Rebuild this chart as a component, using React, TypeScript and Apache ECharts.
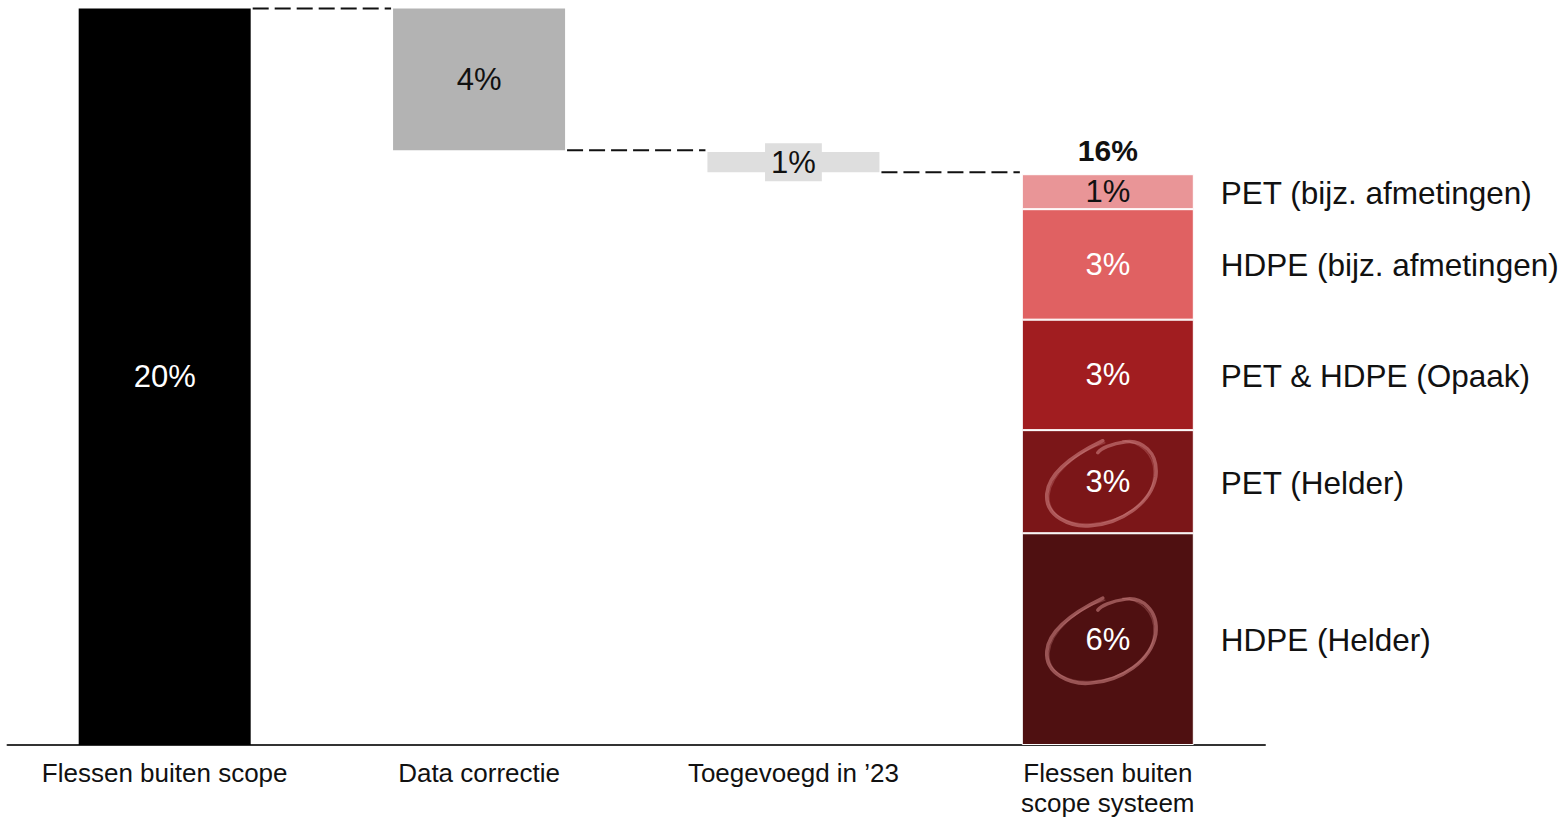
import React, { useEffect, useRef } from "react";
import * as echarts from "echarts";

// ---- data ----
const categories = [
  "Flessen buiten scope",
  "Data correctie",
  "Toegevoegd in \u201923",
  "Flessen buiten\nscope systeem",
];
const startTotal = 20;
const changeValues = [3.85, 0.55]; // Data correctie, Toegevoegd in '23
const changeBases = [16.15, 15.55];
const segmentNames = [
  "HDPE (Helder)",
  "PET (Helder)",
  "PET & HDPE (Opaak)",
  "HDPE (bijz. afmetingen)",
  "PET (bijz. afmetingen)",
];
const segmentValues = [5.75, 2.8, 3.0, 3.0, 0.95];
const circledSegments = [0, 1];

// ---- styles ----
const FONT = "'Liberation Sans', Arial, Helvetica, sans-serif";
const BAR_W = 172;
const segmentColors = ["#4f1011", "#7b1618", "#a11d20", "#e06162", "#e99597"];
const segmentLabelColors = ["#fff", "#fff", "#fff", "#fff", "#111"];
const CIRCLE_D =
  "M 2 -41 C -25 -28 -52 -10 -54 12 C -56 35 -30 46 -10 44 C 20 42 50 22 55 -5 C 58 -30 40 -42 25 -40 C 10 -38 0 -33 -3 -29";
const CIRCLE_D2 =
  "M 4 -39 C -24 -30 -50 -8 -52 14 C -53 36 -28 44 -8 42 C 22 40 52 20 53 -6 C 55 -28 38 -40 22 -41";

const pct = (p: any) => Math.round(p.value) + "%";

export default function App() {
  const ref = useRef<HTMLDivElement>(null);

  useEffect(() => {
    if (!ref.current) return;
    const chart = echarts.init(ref.current, undefined, { renderer: "svg" });

    const total = segmentValues.reduce((a, b) => a + b, 0);
    const mids: number[] = [];
    let acc = 0;
    segmentValues.forEach((v) => {
      mids.push(acc + v / 2);
      acc += v;
    });
    const connectorLevels = [startTotal, changeBases[0], changeBases[1]];

    const series: any[] = [
      {
        type: "bar",
        stack: "wf",
        barWidth: BAR_W,
        silent: true,
        itemStyle: { color: "transparent" },
        data: [0, changeBases[0], changeBases[1], "-"],
      },
      {
        type: "bar",
        stack: "wf",
        barWidth: BAR_W,
        label: {
          show: true,
          position: "inside",
          formatter: pct,
          fontSize: 31,
          fontFamily: FONT,
          color: "#111",
        },
        data: [
          { value: startTotal, itemStyle: { color: "#000" }, label: { color: "#fff" } },
          { value: changeValues[0], itemStyle: { color: "#b3b3b3" } },
          {
            value: changeValues[1],
            itemStyle: { color: "#dedede" },
            label: { backgroundColor: "#dedede", padding: [4, 6, 4, 6], lineHeight: 30 },
          },
          "-",
        ],
      },
      ...segmentValues.map((v, i) => ({
        type: "bar",
        stack: "wf",
        name: segmentNames[i],
        barWidth: BAR_W,
        itemStyle: { color: segmentColors[i], borderColor: "#fff", borderWidth: 1 },
        label: {
          show: true,
          position: "inside",
          formatter: pct,
          fontSize: 31,
          fontFamily: FONT,
          color: segmentLabelColors[i],
        },
        data: ["-", "-", "-", v],
      })),
      {
        type: "custom",
        silent: true,
        z: 1,
        data: connectorLevels.map((v, i) => [i, v]),
        renderItem: (params: any, api: any) => {
          const i = api.value(0);
          const v = api.value(1);
          const p1 = api.coord([i, v]);
          const p2 = api.coord([i + 1, v]);
          return {
            type: "line",
            shape: {
              x1: p1[0] + BAR_W / 2 + 2,
              y1: p1[1],
              x2: p2[0] - BAR_W / 2 - 2,
              y2: p2[1],
            },
            style: { stroke: "#111", lineWidth: 2, lineDash: [16, 6] },
          };
        },
      },
      {
        type: "custom",
        silent: true,
        data: mids.map((m) => [3, m]),
        renderItem: (params: any, api: any) => {
          const p = api.coord([api.value(0), api.value(1)]);
          return {
            type: "text",
            x: p[0] + BAR_W / 2 + 27,
            y: p[1] + 1,
            style: {
              text: segmentNames[params.dataIndex],
              fill: "#111",
              fontSize: 31.5,
              fontFamily: FONT,
              align: "left",
              verticalAlign: "middle",
            },
          };
        },
      },
      {
        type: "custom",
        silent: true,
        data: [[3, total]],
        renderItem: (params: any, api: any) => {
          const p = api.coord([api.value(0), api.value(1)]);
          return {
            type: "text",
            x: p[0],
            y: p[1] - 24,
            style: {
              text: Math.round(total) + "%",
              fill: "#111",
              fontSize: 30,
              fontWeight: "bold",
              fontFamily: FONT,
              align: "center",
              verticalAlign: "middle",
            },
          };
        },
      },
      {
        type: "custom",
        silent: true,
        z: 10,
        data: circledSegments.map((s) => [3, mids[s]]),
        renderItem: (params: any, api: any) => {
          const p = api.coord([api.value(0), api.value(1)]);
          return {
            type: "group",
            x: p[0] - 7,
            y: p[1],
            children: [
              {
                type: "path",
                shape: { pathData: CIRCLE_D },
                style: {
                  fill: "none",
                  stroke: "rgba(215,140,140,0.55)",
                  lineWidth: 3.5,
                  lineCap: "round",
                },
              },
              {
                type: "path",
                shape: { pathData: CIRCLE_D2 },
                style: {
                  fill: "none",
                  stroke: "rgba(215,140,140,0.3)",
                  lineWidth: 1.5,
                  lineCap: "round",
                },
              },
            ],
          };
        },
      },
    ];

    chart.setOption({
      animation: false,
      grid: { left: 7.5, right: 298, top: 8.5, bottom: 69, containLabel: false },
      xAxis: {
        type: "category",
        data: categories,
        axisLine: { show: true, lineStyle: { color: "#333", width: 2 } },
        axisTick: { show: false },
        axisLabel: {
          interval: 0,
          fontSize: 26,
          fontFamily: FONT,
          color: "#111",
          lineHeight: 30,
          margin: 13,
        },
      },
      yAxis: {
        type: "value",
        min: 0,
        max: 20,
        show: false,
        splitLine: { show: false },
      },
      series,
    });

    return () => chart.dispose();
  }, []);

  return (
    <div
      ref={ref}
      style={{ position: "fixed", left: 0, top: 0, width: 1563, height: 818, background: "#fff" }}
    />
  );
}
